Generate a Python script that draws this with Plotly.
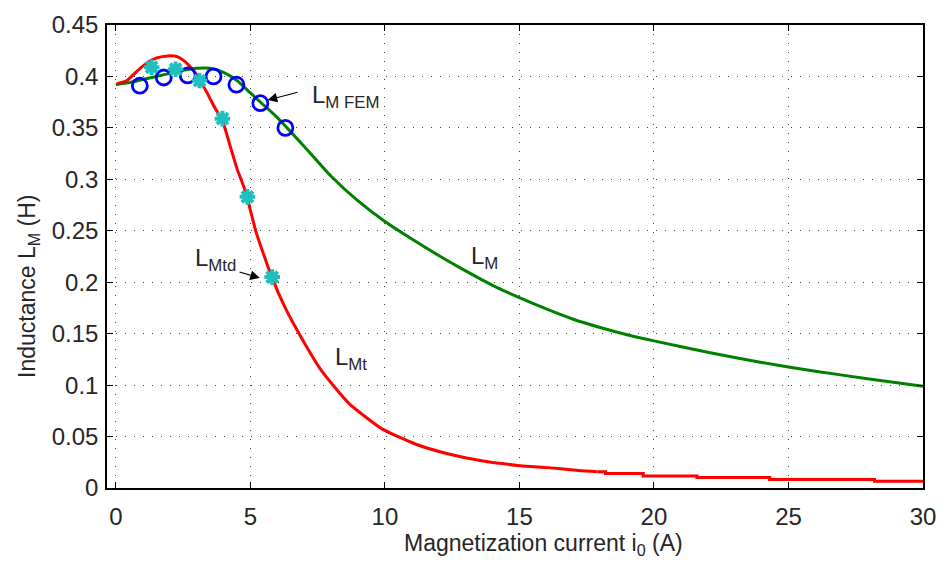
import plotly.graph_objects as go

# Magnetizing inductance L_M versus magnetization current
lm_i = [0, 0.5, 1, 1.5, 2, 2.5, 3, 3.5, 4, 4.5, 5, 5.5, 6, 7, 8, 9, 10,
        11, 12, 13, 14, 15, 16, 17, 18, 19, 20, 22, 24, 26, 28, 30]
lm_val = [0.392, 0.394, 0.397, 0.400, 0.403, 0.406, 0.408, 0.408, 0.404, 0.396,
          0.384, 0.372, 0.360, 0.332, 0.303, 0.279, 0.259, 0.242, 0.226, 0.211,
          0.197, 0.185, 0.174, 0.164, 0.156, 0.149, 0.143, 0.132, 0.122, 0.1135,
          0.106, 0.099]

# Transient inductance L_Mt (smooth part)
lmt_i = [0.04, 0.41, 0.78, 1.15, 1.52, 1.93, 2.30, 2.59, 2.85, 3.11, 3.37, 3.67,
         3.96, 4.22, 4.52, 4.78, 4.96, 5.22, 5.52, 5.81, 6.26, 6.81, 7.67, 8.67,
         9.89, 11.15, 12.37, 13.59, 15.04, 16.07, 17.2, 17.9]
lmt_val = [0.393, 0.396, 0.405, 0.413, 0.418, 0.420, 0.419, 0.414, 0.407, 0.397,
           0.385, 0.370, 0.357, 0.335, 0.309, 0.291, 0.274, 0.248, 0.225, 0.204,
           0.177, 0.150, 0.113, 0.082, 0.0575, 0.0425, 0.033, 0.0264, 0.0217,
           0.0198, 0.017, 0.0158]

# Quantized tail of L_Mt (held values)
tail_i = [17.9, 18.2, 19.6, 21.6, 24.3, 28.2, 30.0]
tail_val = [0.0158, 0.0142, 0.0116, 0.0101, 0.0082, 0.0066, 0.0066]

# Finite element results L_M FEM
fem_i = [0.89, 1.78, 2.67, 3.63, 4.48, 5.37, 6.30]
fem_val = [0.391, 0.399, 0.401, 0.400, 0.392, 0.374, 0.350]

# Measured transient inductance L_Mtd
mtd_i = [1.33, 2.22, 3.11, 3.96, 4.89, 5.81]
mtd_val = [0.409, 0.407, 0.396, 0.359, 0.283, 0.205]

x_ticks = [0, 5, 10, 15, 20, 25, 30]
y_ticks = [0, 0.05, 0.1, 0.15, 0.2, 0.25, 0.3, 0.35, 0.4, 0.45]
y_tick_text = ["0", "0.05", "0.1", "0.15", "0.2", "0.25", "0.3", "0.35", "0.4", "0.45"]

FONT = "Liberation Sans, Arial, sans-serif"
TXT = "#262626"

fig = go.Figure()
fig.add_trace(go.Scatter(x=lm_i, y=lm_val, mode="lines",
                         line=dict(color="#008000", width=3, shape="spline", smoothing=0.6)))
fig.add_trace(go.Scatter(x=lmt_i, y=lmt_val, mode="lines",
                         line=dict(color="#ff0000", width=3, shape="spline", smoothing=0.5)))
fig.add_trace(go.Scatter(x=tail_i, y=tail_val, mode="lines",
                         line=dict(color="#ff0000", width=3, shape="hv")))
fig.add_trace(go.Scatter(x=fem_i, y=fem_val, mode="markers",
                         marker=dict(symbol="circle-open", size=15, color="#0000ff",
                                     line=dict(width=2.8, color="#0000ff"))))
fig.add_trace(go.Scatter(x=mtd_i, y=mtd_val, mode="markers",
                         marker=dict(symbol="asterisk-open", size=13, color="#1fbfbf",
                                     line=dict(width=4, color="#1fbfbf"))))

axis_common = dict(showline=True, linecolor="black", linewidth=1.5, mirror="ticks",
                   ticks="inside", ticklen=6, tickcolor="black", tickwidth=1,
                   showgrid=True, gridcolor="#444444", gridwidth=1, griddash="1px,8px",
                   zeroline=False, ticklabeloverflow="allow",
                   tickfont=dict(family=FONT, size=24, color=TXT))

fig.update_xaxes(range=[-0.33, 30.0001], tickvals=x_ticks, ticklabelstandoff=6, **axis_common)
fig.update_yaxes(range=[0, 0.45001], tickvals=y_ticks, ticktext=y_tick_text,
                 ticklabelstandoff=2, **axis_common)

ann_font = dict(family=FONT, size=24, color=TXT)
label_specs = [
    ("L<sub>M FEM</sub>", 8.55, 0.381),
    ("L<sub>Mtd</sub>", 3.7, 0.222),
    ("L<sub>M</sub>", 13.7, 0.224),
    ("L<sub>Mt</sub>", 8.75, 0.126),
]
for txt, ax_, ay_ in label_specs:
    fig.add_annotation(x=ax_, y=ay_, xref="x", yref="y", text=txt, showarrow=False,
                       font=ann_font)

# Pointer arrows for the point-series labels
arrows = [
    (5.64, 0.377, 6.81, 0.385),
    (5.35, 0.204, 4.54, 0.2104),
]
for hx, hy, tx, ty in arrows:
    fig.add_annotation(x=hx, y=hy, ax=tx, ay=ty, xref="x", yref="y", axref="x", ayref="y",
                       text="", showarrow=True, arrowhead=2, arrowsize=1.6,
                       arrowwidth=1.2, arrowcolor="black", standoff=0, startstandoff=0)

fig.add_annotation(x=0.535, y=-0.122, xref="paper", yref="paper",
                   text="Magnetization current i<sub>0</sub> (A)", showarrow=False,
                   font=dict(family=FONT, size=23, color=TXT), xanchor="center", yanchor="middle")
fig.add_annotation(x=-0.097, y=0.436, xref="paper", yref="paper",
                   text="Inductance L<sub>M</sub> (H)", showarrow=False, textangle=-90,
                   font=dict(family=FONT, size=23, color=TXT), xanchor="center", yanchor="middle")

fig.update_layout(width=947, height=563, showlegend=False,
                  margin=dict(l=107, r=21, t=11, b=75),
                  paper_bgcolor="white", plot_bgcolor="white")

fig.write_html("out.html")
